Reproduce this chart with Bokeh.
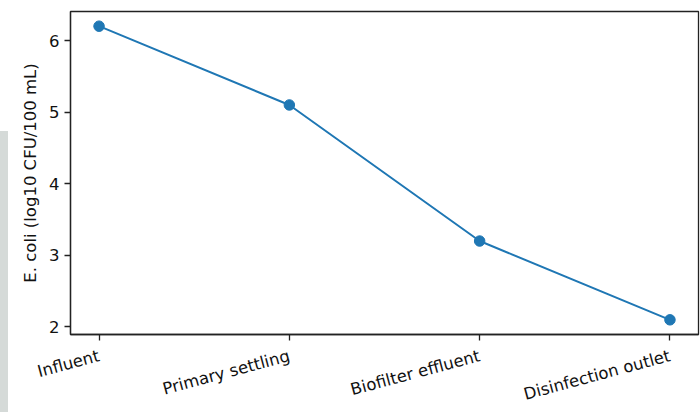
import math
from bokeh.plotting import figure
from bokeh.models import FixedTicker, Range1d, Div
from bokeh.layouts import row
from bokeh.embed import file_html
from bokeh.resources import INLINE

stages = ["Influent", "Primary settling", "Biofilter effluent", "Disinfection outlet"]
ecoli_log10 = [6.2, 5.1, 3.2, 2.1]
y_ticks = [2, 3, 4, 5, 6]

xs = list(range(len(stages)))
ymin, ymax = min(ecoli_log10), max(ecoli_log10)
pad = 0.05 * (ymax - ymin)

p = figure(width=692, height=412, output_backend="svg", toolbar_location=None,
           frame_width=628, frame_height=323,
           x_range=Range1d(-0.15, len(stages) - 1 + 0.15),
           y_range=Range1d(ymin - pad, ymax + pad),
           min_border_left=62, min_border_right=2, min_border_top=11, min_border_bottom=78)
p.background_fill_color = "white"
p.border_fill_color = "white"
p.outline_line_color = "#222222"
p.outline_line_width = 1.3
p.grid.visible = False

p.line(xs, ecoli_log10, line_color="#1f77b4", line_width=2)
p.scatter(xs, ecoli_log10, size=10.5, fill_color="#1f77b4", line_color="#1f77b4")

p.xaxis.ticker = FixedTicker(ticks=xs)
p.xaxis.major_label_overrides = {i: s for i, s in enumerate(stages)}
p.xaxis.major_label_orientation = math.radians(15)
p.yaxis.ticker = FixedTicker(ticks=y_ticks)
p.yaxis.axis_label = "E. coli (log10 CFU/100 mL)"

for ax in (p.xaxis[0], p.yaxis[0]):
    ax.axis_line_color = "#222222"
    ax.axis_line_width = 1.3
    ax.major_tick_line_color = "#222222"
    ax.major_tick_line_width = 1.3
    ax.major_tick_out = 6
    ax.major_tick_in = 0
    ax.minor_tick_line_color = None
    ax.major_label_text_font = "DejaVu Sans"
    ax.major_label_text_font_size = "16.5px"
    ax.major_label_text_color = "#111111"
    ax.major_label_standoff = 5
    ax.axis_label_text_font = "DejaVu Sans"
    ax.axis_label_text_font_size = "16.5px"
    ax.axis_label_text_font_style = "normal"
    ax.axis_label_text_color = "#111111"
    ax.axis_label_standoff = 6

p.xaxis[0].major_label_standoff = 15

side = Div(text='<div style="margin:131px 0 0 0;height:281px;width:8px;background:#d5dad8"></div>',
           width=8, height=412, margin=0)
layout = row(side, p, spacing=0)

open("out.html", "w").write(file_html(layout, INLINE))
